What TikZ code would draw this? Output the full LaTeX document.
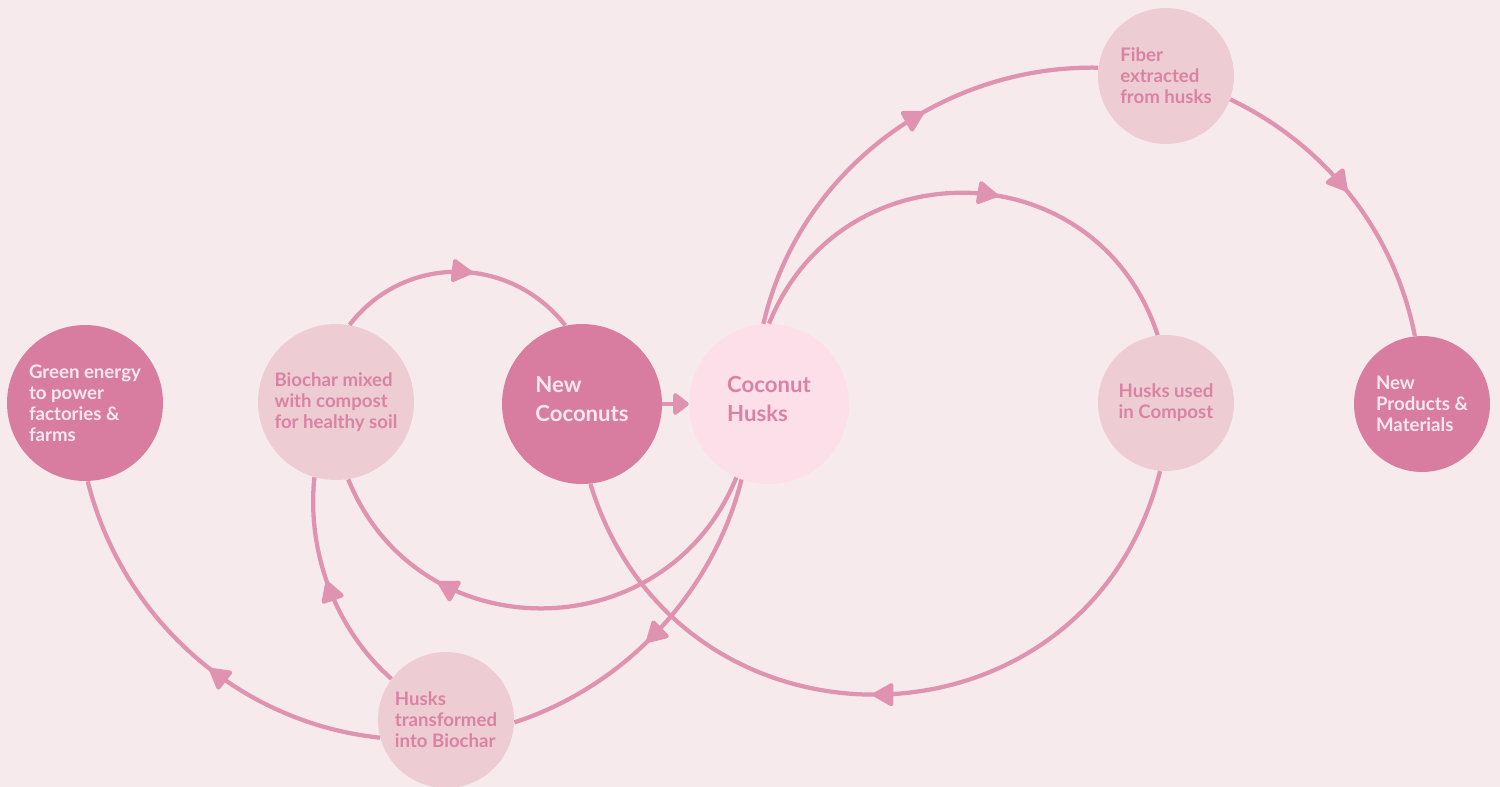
\documentclass[tikz,border=0pt]{standalone}
\usepackage{fontspec}
\setmainfont{Lato}
\usetikzlibrary{arrows.meta,decorations.markings}
\definecolor{bgpink}{HTML}{F7EAED}
\definecolor{rosedark}{HTML}{D87CA0}
\definecolor{roselight}{HTML}{EDCDD3}
\definecolor{rosepale}{HTML}{FCDFE8}
\definecolor{roseline}{HTML}{DF93B0}
\definecolor{rosetext}{HTML}{DA82A4}
\definecolor{rosewhite}{HTML}{FDE8EF}

\begin{document}
\begin{tikzpicture}[x=0.02cm,y=-0.02cm,
    hub/.style={circle,inner sep=0pt,minimum size=#1,align=left,
                font=\bfseries\fontsize{10.6}{12}\selectfont},
    dark/.style={hub=#1,fill=rosedark,text=rosewhite},
    light/.style={hub=#1,fill=roselight,text=rosetext},
    big/.style={font=\bfseries\fontsize{12.6}{16.2}\selectfont,text depth=0.2cm},
    flow/.style={draw=roseline,line width=0.085cm,postaction={decorate},
                 decoration={markings,mark=at position #1 with
                 {\arrow{Triangle[length=0.46cm,width=0.5cm,round]}}}}]
      \useasboundingbox (0,0) rectangle (1500,787);
      \fill[bgpink] (0,0) rectangle (1500,787);
      % circles
      \node[dark=3.12cm]  (green)    at (85,403)   {Green energy\\to power\\factories \&\\farms};
      \node[light=3.12cm] (biochar)  at (336,402)  {Biochar mixed\\with compost\\for healthy soil};
      \node[dark=3.2cm,big] (coconuts) at (582,404) {New\\Coconuts};
      \node[light=3.2cm,big,fill=rosepale] (husks) at (769,404) {Coconut\\Husks};
      \node[light=2.72cm] (fiber)    at (1166,76)  {Fiber\\extracted\\from husks};
      \node[light=2.72cm] (compost)  at (1166,403) {Husks used\\in Compost};
      \node[dark=2.72cm]  (products) at (1422,404) {New\\Products \&\\Materials};
      \node[light=2.72cm] (biochar2) at (446,720)  {Husks\\transformed\\into Biochar};
      % loops
      \foreach \a/\b/\o/\i/\d/\p in {husks.94/fiber.173/77/179/3.14/0.6,
          fiber.-20/products.96/-25.5/101/2.12/0.48,
          husks.90/compost.97/68/108/3.88/0.56,
          compost.-95/coconuts.-84/-104/-73/6.01/0.51,
          husks.-114/biochar.-81/-112/-68/3.74/0.72,
          husks.-110/biochar2.-2/-104/18/2.33/0.55,
          biochar2.-165/green.-88/174/-76/2.84/0.45,
          biochar2.143/biochar.-106/138.5/-96/1.5/0.53,
          biochar.80/coconuts.102/52.5/128/1.8/0.56}{
        \draw[flow=\p] (\a) to[out=\o,in=\i,distance=\d cm] (\b);
      }
      \draw[draw=roseline,line width=0.085cm,-{Triangle[length=0.34cm,width=0.5cm,round]}]
        (coconuts) -- (husks);
    \end{tikzpicture}
\end{document}
